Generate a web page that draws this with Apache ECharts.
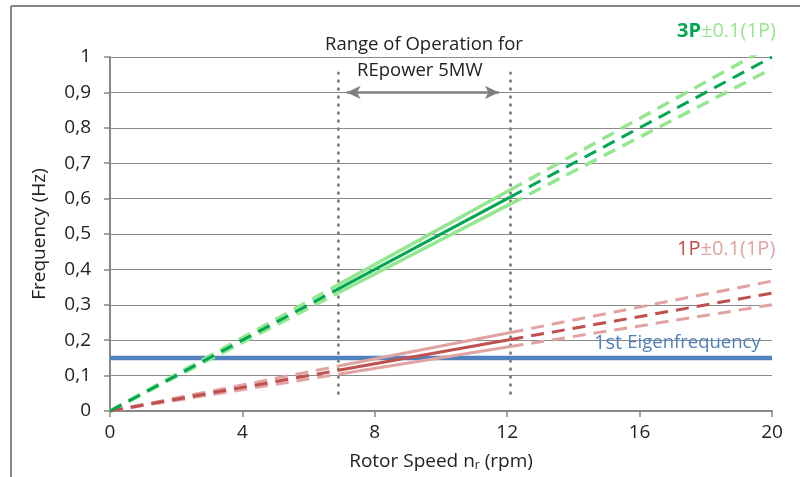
<!DOCTYPE html>
<html>
<head>
<meta charset="utf-8">
<script src="https://cdn.jsdelivr.net/npm/echarts@6/dist/echarts.min.js"></script>
<style>
html, body { margin: 0; padding: 0; background: #fff; }
#main { width: 800px; height: 477px; }
</style>
</head>
<body>
<div id="main"></div>
<script>
// rotor speed break points: start, range start, range end, max (rpm)
var rpmPoints = [0, 6.9, 12.1, 20];
// frequencies (Hz) at those speeds
var p3Mid   = [0, 0.345, 0.605, 1.0];
var p3Upper = [0, 0.357, 0.625, 1.033];
var p3Lower = [0, 0.334, 0.585, 0.967];
var p1Mid   = [0, 0.115, 0.202, 0.333];
var p1Upper = [0, 0.127, 0.222, 0.367];
var p1Lower = [0, 0.104, 0.182, 0.300];
var eigenFreq = 0.15;
var rangeLines = [6.9, 12.1];
var rangeSpan = [0.05, 0.955];
var arrowEnds = [7.15, 11.75];
var arrowLevel = 0.9;

var FONT = '"Open Sans"';

function segs(name, vals, color, width, z) {
	var out = [];
	for (var i = 0; i < 3; i++) {
		out.push({
			name : name,
			type : 'line',
			data : [[rpmPoints[i], vals[i]], [rpmPoints[i + 1], vals[i + 1]]],
			showSymbol : false,
			symbol : 'none',
			silent : true,
			z : z,
			lineStyle : {
				color : color,
				width : width,
				type : i == 1 ? 'solid' : [13, 8]
			}
		});
	}
	return out;
}

var myChart = echarts.init(document.getElementById('main'));

var series = [];
// 1st eigenfrequency
series.push({
	type : 'line',
	data : [[0, eigenFreq], [20, eigenFreq]],
	symbol : 'none',
	silent : true,
	z : 2,
	lineStyle : { color : '#4F81BD', width : 4.5 }
});
// range of operation dotted lines
rangeLines.forEach(function(x) {
	series.push({
		type : 'line',
		data : [[x, rangeSpan[0]], [x, rangeSpan[1]]],
		symbol : 'none',
		silent : true,
		z : 3,
		lineStyle : { color : '#808080', width : 3, type : [0.5, 7.5], cap : 'round' }
	});
});
// arrow
series.push({
	type : 'line',
	data : [],
	symbol : 'none',
	silent : true,
	markLine : {
		silent : true,
		symbol : ['arrow', 'arrow'],
		symbolSize : [10, 14],
		label : { show : false },
		lineStyle : { color : '#808080', width : 2.5, type : 'solid' },
		data : [[{ coord : [arrowEnds[0], arrowLevel] }, { coord : [arrowEnds[1], arrowLevel] }]]
	}
});

series = series
	.concat(segs('1P+', p1Upper, '#E0A3A1', 3, 4))
	.concat(segs('1P-', p1Lower, '#E0A3A1', 3, 4))
	.concat(segs('1P', p1Mid, '#C0504D', 3, 5))
	.concat(segs('3P+', p3Upper, '#94E68F', 3.5, 4))
	.concat(segs('3P-', p3Lower, '#94E68F', 3.5, 4))
	.concat(segs('3P', p3Mid, '#00A651', 3, 5));

var option = {
	animation : false,
	backgroundColor : '#fff',
	textStyle : { fontFamily : FONT },
	grid : { left : 110, right : 28, top : 57, bottom : 66 },
	xAxis : {
		type : 'value',
		min : 0,
		max : 20,
		interval : 4,
		name : '{a|Rotor Speed n}{s|r}{a| (rpm)}',
		nameLocation : 'middle',
		nameGap : 40,
		nameTextStyle : {
			rich : {
				a : { fontFamily : FONT, fontSize : 19, color : '#222' },
				s : { fontFamily : FONT, fontSize : 12, color : '#222', verticalAlign : 'bottom', padding : [9, 0, 0, 0] }
			}
		},
		axisLine : { lineStyle : { color : '#888', width : 2 } },
		axisTick : { show : true, length : 6, lineStyle : { color : '#888', width : 1.5 } },
		axisLabel : { fontFamily : FONT, fontSize : 19, color : '#222', margin : 12 },
		splitLine : { show : false }
	},
	yAxis : {
		type : 'value',
		min : 0,
		max : 1,
		interval : 0.1,
		name : 'Frequency (Hz)',
		nameLocation : 'middle',
		nameGap : 61,
		nameTextStyle : { fontFamily : FONT, fontSize : 19, color : '#222' },
		axisLine : { show : true, lineStyle : { color : '#888', width : 2 } },
		axisTick : { show : true, length : 6, lineStyle : { color : '#888', width : 1.5 } },
		axisLabel : {
			fontFamily : FONT, fontSize : 19, color : '#222', margin : 19,
			formatter : function(v) { return String(Math.round(v * 10) / 10).replace('.', ','); }
		},
		splitLine : { lineStyle : { color : '#8a8a8a', width : 1.2 } }
	},
	graphic : [
		{ type : 'line', shape : { x1 : 11, y1 : 6, x2 : 11, y2 : 477 }, style : { stroke : '#888', lineWidth : 2 } },
		{ type : 'line', shape : { x1 : 11, y1 : 6, x2 : 800, y2 : 6 }, style : { stroke : '#888', lineWidth : 2 } },
		{
			type : 'text', left : 325, top : 35, z : 10,
			style : { text : 'Range of Operation for', font : '18.5px ' + FONT, fill : '#222' }
		},
		{
			type : 'text', left : 357, top : 61, z : 10,
			style : { text : 'REpower 5MW', font : '18.5px ' + FONT, fill : '#222' }
		},
		{
			type : 'text', left : 677, top : 21, z : 10,
			style : {
				text : '{d|3P}{l|±0.1(1P)}',
				rich : {
					d : { fontFamily : FONT, fontSize : 20, fontWeight : 'bold', fill : '#00A651' },
					l : { fontFamily : FONT, fontSize : 20, fill : '#94E68F' }
				}
			}
		},
		{
			type : 'text', left : 677, top : 239, z : 10,
			style : {
				text : '{d|1P}{l|±0.1(1P)}',
				rich : {
					d : { fontFamily : FONT, fontSize : 20, fill : '#C0504D' },
					l : { fontFamily : FONT, fontSize : 20, fill : '#E0A3A1' }
				}
			}
		},
		{
			type : 'text', left : 594, top : 333, z : 10,
			style : {
				text : '{d|1st }{l|Eigenfrequency}',
				rich : {
					d : { fontFamily : FONT, fontSize : 20, fill : '#4F81BD' },
					l : { fontFamily : FONT, fontSize : 18.5, fill : '#4F81BD' }
				}
			}
		}
	],
	series : series
};
myChart.setOption(option);
</script>
</body>
</html>
